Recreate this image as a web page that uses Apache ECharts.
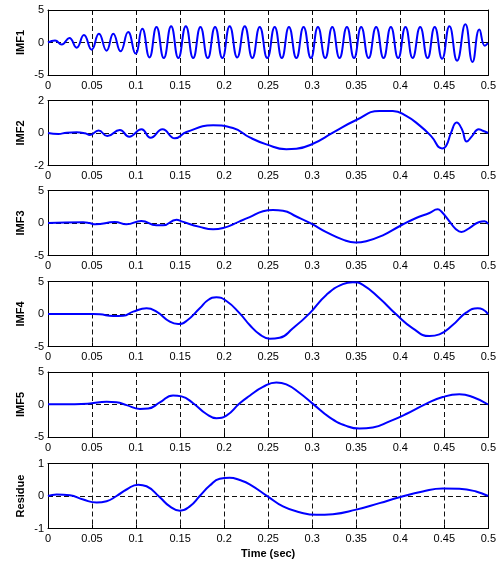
<!DOCTYPE html>
<html>
<head>
<meta charset="utf-8">
<script src="https://cdn.jsdelivr.net/npm/echarts@6/dist/echarts.min.js"></script>
<style>
  html, body { margin: 0; padding: 0; background: #fff; }
  #chart { width: 499px; height: 563px; }
</style>
</head>
<body>
<div id="chart"></div>
<script>
// Time samples (s) and amplitudes for each intrinsic mode function and the residue
const imf1T = [0, 0.008, 0.0155, 0.0242, 0.0325, 0.0408, 0.0495, 0.0578, 0.0665, 0.0741, 0.0824, 0.091, 0.0994,
  0.107, 0.1152, 0.1232, 0.1315, 0.1398, 0.148, 0.1565, 0.1648, 0.1731, 0.1814, 0.1897, 0.198, 0.2063, 0.2148,
  0.2234, 0.232, 0.2404, 0.249, 0.2574, 0.2655, 0.2736, 0.282, 0.2902, 0.2985, 0.3065, 0.3148, 0.3228, 0.331,
  0.3394, 0.3475, 0.3556, 0.364, 0.3726, 0.381, 0.3893, 0.3976, 0.4059, 0.414, 0.4226, 0.431, 0.4391, 0.4475,
  0.4558, 0.4645, 0.4739, 0.482, 0.4898, 0.496, 0.4995];
const imf1V = [0, 0.3, -0.3, 0.7, -0.8, 1.15, -1.1, 1.35, -1.25, 1.35, -1.35, 1.6, -1.7,
  2.1, -2.3, 2.4, -2.4, 2.5, -2.4, 2.5, -2.4, 2.4, -2.4, 2.4, -2.4, 2.5, -2.3,
  2.5, -2.4, 2.4, -2.4, 2.4, -2.4, 2.4, -2.4, 2.4, -2.4, 2.4, -2.4, 2.4, -2.4,
  2.4, -2.4, 2.4, -2.4, 2.4, -2.4, 2.4, -2.4, 2.4, -2.4, 2.4, -2.4, 2.4, -2.5,
  2.5, -2.8, 2.8, -3.0, 2.0, -0.5, -0.1];

const imf2T = [0, 0.0117, 0.0212, 0.0325, 0.042, 0.0476, 0.0574, 0.0673, 0.0816, 0.0922, 0.1062, 0.1164, 0.13,
  0.144, 0.1572, 0.1875, 0.21, 0.229, 0.248, 0.2706, 0.282, 0.3008, 0.3235, 0.35, 0.3764, 0.3915, 0.4067, 0.4218,
  0.435, 0.4475, 0.452, 0.4577, 0.464, 0.47, 0.4755, 0.4815, 0.489, 0.4936, 0.4997];
const imf2V = [0, -0.06, 0.02, 0.04, -0.02, -0.12, 0.16, -0.19, 0.19, -0.23, 0.23, -0.29, 0.23,
  -0.33, 0.06, 0.47, 0.31, -0.27, -0.7, -1.0, -0.97, -0.66, 0.02, 0.8, 1.36, 1.36, 1.05, 0.47,
  -0.19, -0.95, -0.8, 0.02, 0.64, 0.23, -0.52, -0.19, 0.23, 0.14, 0];

const imf3T = [0, 0.04, 0.0469, 0.0537, 0.076, 0.089, 0.106, 0.123, 0.1307, 0.1459, 0.1516, 0.1723, 0.1874,
  0.1988, 0.2177, 0.229, 0.2441, 0.2555, 0.2668, 0.282, 0.299, 0.316, 0.3348, 0.3492, 0.3613, 0.3802, 0.3991,
  0.418, 0.4331, 0.4425, 0.4464, 0.4558, 0.4626, 0.4694, 0.4785, 0.4898, 0.4955, 0.4997];
const imf3V = [0, 0.1, 0, -0.2, 0.15, -0.2, 0.3, -0.36, -0.36, 0.5, 0.25, -0.6, -0.97,
  -0.77, 0.26, 0.9, 1.8, 2.0, 1.9, 1.0, -0.1, -1.4, -2.56, -3.0, -2.8, -1.9, -0.5,
  0.77, 1.54, 2.1, 1.8, 0.26, -0.87, -1.38, -0.77, 0.15, 0.26, -0.15];

const imf4T = [0, 0.0514, 0.059, 0.074, 0.0854, 0.0967, 0.1119, 0.1232, 0.1383, 0.1478, 0.1572, 0.1723, 0.1818,
  0.1912, 0.2026, 0.2177, 0.229, 0.2404, 0.2517, 0.263, 0.2781, 0.297, 0.316, 0.3348, 0.3462, 0.3575, 0.3764,
  0.3953, 0.4142, 0.4331, 0.4444, 0.4595, 0.4747, 0.4879, 0.4936, 0.4997];
const imf4V = [0, 0, -0.05, -0.3, -0.26, 0.36, 0.88, 0.36, -1.19, -1.55, -1.08, 0.88, 2.16,
  2.58, 2.0, 0.1, -1.7, -3.14, -3.8, -3.66, -2.2, 0.1, 2.94, 4.6, 4.9, 4.48, 2.42,
  -0.05, -2.2, -3.4, -3.14, -1.7, 0.2, 0.88, 0.72, -0.05];

const imf5T = [0, 0.0303, 0.0476, 0.0665, 0.0778, 0.0892, 0.1043, 0.1137, 0.127, 0.142, 0.1516, 0.1648, 0.1799,
  0.1912, 0.2026, 0.2177, 0.229, 0.2441, 0.2593, 0.2706, 0.2857, 0.3008, 0.3197, 0.3386, 0.3537, 0.3688, 0.3878,
  0.4067, 0.4293, 0.4482, 0.4671, 0.4822, 0.4997];
const imf5V = [0.05, 0.05, 0.15, 0.42, 0.36, -0.1, -0.68, -0.62, 0.31, 1.4, 1.25, 0.2, -1.46,
  -2.1, -1.7, 0.2, 1.35, 2.7, 3.4, 3.1, 1.77, 0.1, -1.98, -3.28, -3.7, -3.54, -2.6,
  -1.46, 0.1, 1.15, 1.56, 1.15, 0];

const resT = [0, 0.0098, 0.0249, 0.04, 0.0552, 0.0665, 0.0778, 0.0892, 0.1024, 0.1119, 0.127, 0.1383, 0.1497,
  0.161, 0.1723, 0.1837, 0.195, 0.2063, 0.2177, 0.229, 0.2498, 0.2668, 0.2857, 0.3046, 0.3235, 0.35, 0.3764,
  0.3991, 0.4255, 0.4482, 0.4671, 0.486, 0.4997];
const resV = [0, 0.05, 0.02, -0.11, -0.2, -0.16, 0, 0.2, 0.35, 0.3, -0.04, -0.32, -0.45,
  -0.32, 0, 0.32, 0.53, 0.56, 0.49, 0.36, -0.02, -0.32, -0.5, -0.58, -0.56, -0.42, -0.22,
  -0.04, 0.14, 0.23, 0.22, 0.14, 0];

// Panel names, y limits and y tick spacing
const panelNames = ['IMF1', 'IMF2', 'IMF3', 'IMF4', 'IMF5', 'Residue'];
const yMins = [-5, -2, -5, -5, -5, -1];
const yMaxs = [5, 2, 5, 5, 5, 1];
const yStep = [5, 2, 5, 5, 5, 1];
const xTickStep = 0.05;
const xLabel = 'Time (sec)';

const seriesT = [imf1T, imf2T, imf3T, imf4T, imf5T, resT];
const seriesV = [imf1V, imf2V, imf3V, imf4V, imf5V, resV];

const panelTops = [10, 100.5, 190.5, 281.5, 372, 463.5];
const panelH = 65;
const font = 'Liberation Sans, Arial, Helvetica, sans-serif';
const dash = { color: '#111', type: [5, 3], width: 1 };
const black = { color: '#000', width: 1 };
const nameStyle = { fontFamily: font, fontSize: 11, fontWeight: 'bold', color: '#000' };

const grids = [], xAxes = [], yAxes = [], series = [];
const n = panelNames.length;
panelNames.forEach((name, i) => {
  grids.push({ left: 48, right: 10, top: panelTops[i], height: panelH });
  const last = i === n - 1;
  xAxes.push({
    type: 'value', gridIndex: i, min: 0, max: 0.5, interval: xTickStep, position: 'bottom',
    name: last ? xLabel : '', nameLocation: 'middle', nameGap: 20, nameMoveOverlap: false,
    nameTextStyle: nameStyle,
    axisLine: { show: true, onZero: false, lineStyle: black },
    axisTick: { show: true, inside: true, length: 4, lineStyle: black },
    axisLabel: { color: '#000', fontFamily: font, fontSize: 11, margin: 5,
      formatter: v => String(+v.toFixed(2)) },
    splitLine: { show: true, lineStyle: dash }
  });
  yAxes.push({
    type: 'value', gridIndex: i, min: yMins[i], max: yMaxs[i], interval: yStep[i], position: 'left',
    name: name, nameLocation: 'middle', nameGap: 22, nameRotate: 90, nameMoveOverlap: false,
    nameTextStyle: nameStyle,
    axisLine: { show: true, onZero: false, lineStyle: black },
    axisTick: { show: true, inside: true, length: 4, lineStyle: black },
    axisLabel: { color: '#000', fontFamily: font, fontSize: 11, margin: 4 },
    splitLine: { show: true, lineStyle: dash }
  });
  series.push({
    type: 'line', xAxisIndex: i, yAxisIndex: i, name: name,
    data: seriesT[i].map((t, k) => [t, seriesV[i][k]]),
    showSymbol: false, smooth: 0.5, animation: false, z: 5,
    lineStyle: { color: '#0000ff', width: 2 }
  });
});

// Top and right axes close the box around each panel, with inward ticks
panelNames.forEach((name, i) => {
  xAxes.push({
    type: 'value', gridIndex: i, min: 0, max: 0.5, interval: xTickStep, position: 'top',
    axisLine: { show: true, onZero: false, lineStyle: black },
    axisTick: { show: true, inside: true, length: 4, lineStyle: black },
    axisLabel: { show: false }, splitLine: { show: false }
  });
  yAxes.push({
    type: 'value', gridIndex: i, min: yMins[i], max: yMaxs[i], interval: yStep[i], position: 'right',
    axisLine: { show: true, onZero: false, lineStyle: black },
    axisTick: { show: true, inside: true, length: 4, lineStyle: black },
    axisLabel: { show: false }, splitLine: { show: false }
  });
});

const chart = echarts.init(document.getElementById('chart'), null, { renderer: 'canvas' });
chart.setOption({ animation: false, grid: grids, xAxis: xAxes, yAxis: yAxes, series: series });
</script>
</body>
</html>
